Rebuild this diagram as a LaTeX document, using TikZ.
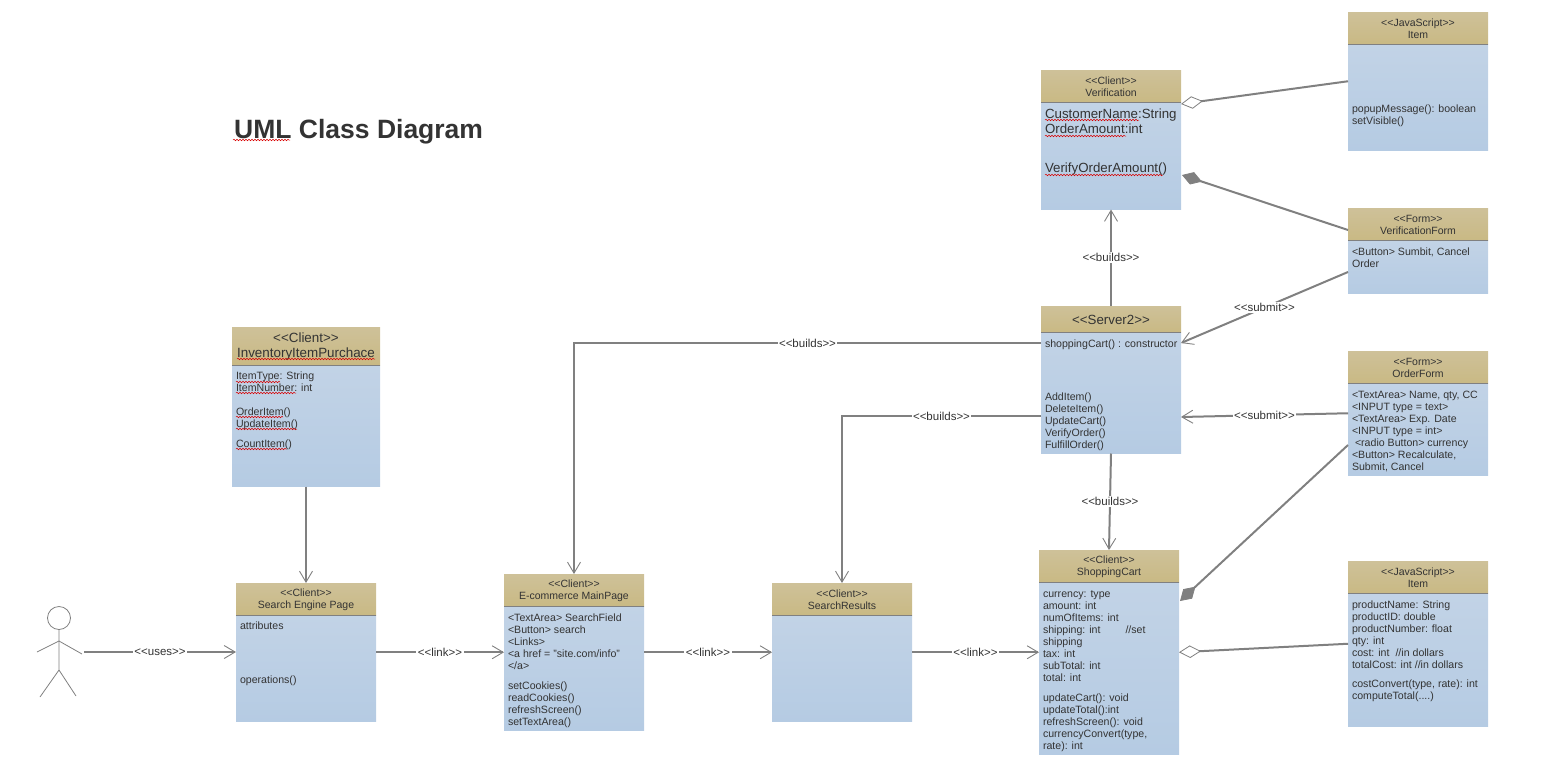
\documentclass[tikz,border=0pt]{standalone}
\usepackage{fontspec}
\setmainfont{Liberation Sans}
\usepackage{xcolor}
\usepackage{tikz}
\usetikzlibrary{arrows.meta, calc, decorations.pathmorphing}
\definecolor{umlInk}{HTML}{333333}
\definecolor{umlLine}{HTML}{808080}
\definecolor{umlHeadTop}{HTML}{CEC199}
\definecolor{umlHeadLow}{HTML}{C9B984}
\definecolor{umlBodyTop}{HTML}{C2D3E6}
\definecolor{umlBodyLow}{HTML}{B5CBE3}
\tikzset{
	classhead/.style={top color=umlHeadTop, bottom color=umlHeadLow, inner sep=0, outer sep=0},
	classtitle/.style={inner sep=0, outer sep=0, align=center, text=umlInk, font=\fontsize{10.5}{12}\selectfont},
	classbody/.style={top color=umlBodyTop, bottom color=umlBodyLow, inner sep=0, outer sep=0},
	classtext/.style={inner xsep=4pt, inner ysep=0, outer sep=0, align=left, text=umlInk, font=\fontsize{10.6}{12}\selectfont},
	flow/.style={draw=umlLine, line width=2pt, -{Straight Barb[length=11pt, width=13pt, line width=0.9pt]}},
	hollowlink/.style={draw=umlLine, line width=2pt, {Diamond[open, length=22pt, width=12.5pt, line width=0.8pt]}-},
	solidlink/.style={draw=umlLine, line width=2pt, {Diamond[length=21pt, width=13pt, line width=0.8pt]}-},
	flowlabel/.style={fill=white, inner sep=1.5pt, text=umlInk, font=\fontsize{11.5}{12}\selectfont},
	squiggle/.style={draw=red!85!black, line width=0.5pt, decorate, decoration={snake, amplitude=0.8pt, segment length=3pt}},
	figure/.style={draw=umlLine, line width=0.8pt}
}
\newcommand{\UMLClass}[8][]{
	\pgfmathsetmacro{\lbody}{#6-#5-0.5}
	\pgfmathsetmacro{\lwhole}{#6-0.5}
	\node[minimum width=#4pt, minimum height=\lwhole pt, anchor=north west, inner sep=0, outer sep=0] (#2) at (#3) {};
	\node[classhead, minimum width=#4pt, minimum height=#5pt, anchor=north west] (#2Head) at (#2.north west) {};
	\node[classbody, minimum width=#4pt, minimum height=\lbody pt, anchor=north west] (#2Body) at (#2Head.south west) {};
	\draw[umlLine, line width=0.8pt] (#2Head.south west) -- (#2Head.south east);
	\node[classtitle, yshift=-1pt] (#2Title) at (#2Head.center) {#7};
	\node[classtext, #1, anchor=north west] (#2Text) at (#2Body.north west) {\rule{0pt}{15pt}#8};
}
\begin{document}
\begin{tikzpicture}[x=1pt, y=-1pt]
	\useasboundingbox (0,0) rectangle (1560,774);

	\node[anchor=base west, inner sep=0, text=umlInk, font=\fontsize{26.5}{30}\selectfont\bfseries] (Title) at (234,138) {UML Class Diagram};

	\UMLClass[yshift=1pt]{Inventory}{232,327}{148}{38}{160}{\fontsize{13.4}{15}\selectfont <{}<Client>{}>\\[3pt]\fontsize{13.4}{15}\selectfont InventoryItemPurchace}{ItemType: String\\ItemNumber: int\\[12pt]OrderItem()\\UpdateItem()\\[8pt]CountItem()}
	\UMLClass[yshift=1pt]{SearchPage}{236,583}{140}{32}{139}{<{}<Client>{}>\\Search Engine Page}{attributes\\[42pt]operations()}
	\UMLClass{MainPage}{504,574}{140}{32}{157}{<{}<Client>{}>\\E-commerce MainPage}{<TextArea> SearchField\\<Button> search\\<Links>\\<a href = "site.com/info"\\</a>\\[8pt]setCookies()\\readCookies()\\refreshScreen()\\setTextArea()}
	\UMLClass{SearchResults}{772,583}{140}{32}{139}{<{}<Client>{}>\\SearchResults}{}
	\UMLClass{ShoppingCart}{1039,550}{140}{32}{205}{<{}<Client>{}>\\ShoppingCart}{currency: type\\amount: int\\numOfItems: int\\shipping: int\hspace*{25pt}//set\\shipping\\tax: int\\subTotal: int\\total: int\\[8pt]updateCart(): void\\updateTotal():int\\refreshScreen(): void\\currencyConvert(type,\\rate): int}
	\UMLClass{Server}{1041,306}{140}{26}{148}{\fontsize{13.3}{16}\selectfont <{}<Server2>{}>}{shoppingCart() : constructor\\[41pt]AddItem()\\DeleteItem()\\UpdateCart()\\VerifyOrder()\\FulfillOrder()}
	\UMLClass[font=\fontsize{13.3}{15}\selectfont, yshift=-1pt]{Verification}{1041,70}{140}{32}{140}{<{}<Client>{}>\\Verification}{CustomerName:String\\OrderAmount:int\\[24pt]VerifyOrderAmount()}
	\UMLClass{ItemTop}{1348,12}{140}{32}{139}{<{}<JavaScript>{}>\\Item}{\mbox{}\\[41pt]popupMessage(): boolean\\setVisible()}
	\UMLClass{VerificationForm}{1348,208}{140}{32}{86}{<{}<Form>{}>\\VerificationForm}{<Button> Sumbit, Cancel\\Order}
	\UMLClass{OrderForm}{1348,351}{140}{32}{125}{<{}<Form>{}>\\OrderForm}{<TextArea> Name, qty, CC\\<INPUT type = text>\\<TextArea> Exp. Date\\<INPUT type = int>\\\hspace*{3pt}<radio Button> currency\\<Button> Recalculate,\\Submit, Cancel}
	\UMLClass{ItemBottom}{1348,561}{140}{32}{166}{<{}<JavaScript>{}>\\Item}{productName: String\\productID: double\\productNumber: float\\qty: int\\cost: int\hspace*{6pt}//in dollars\\totalCost: int //in dollars\\[7pt]costConvert(type, rate): int\\computeTotal(....)}

	% spell check marks
	\foreach \xa/\xb/\ya in {233/290/140, 237/375/359, 236/280/382, 236/296/393, 236/283/417, 236/297/429, 236/287/449, 1045/1139/120, 1045/1126/136, 1045/1163/175}
		\draw[squiggle] (\xa,\ya) -- (\xb,\ya);

	\node[minimum width=50pt, minimum height=92pt, inner sep=0, outer sep=0] (Actor) at (59,652) {};
	\draw[figure] (59,618) circle (11.5);
	\draw[figure] (59,629.5) -- (59,670) -- (40,697);
	\draw[figure] (59,670) -- (76,696);
	\draw[figure] (37,652) -- (59,641) -- (82,654);

	\coordinate (ServerMain) at ($ (Server.north west)+(0,37) $);
	\coordinate (ServerResults) at ($ (Server.north west)+(0,110) $);
	\coordinate (ServerFormA) at ($ (Server.north east)+(0,37) $);
	\coordinate (ServerFormB) at ($ (Server.north east)+(0,111) $);
	\coordinate (VerifItem) at ($ (Verification.north east)+(0,34) $);
	\coordinate (VerifForm) at ($ (Verification.north east)+(1,105) $);
	\coordinate (FormVerif) at ($ (VerificationForm.north west)+(0,22) $);
	\coordinate (FormServer) at ($ (VerificationForm.north west)+(0,64) $);
	\coordinate (OrderCart) at ($ (OrderForm.north west)+(0,94) $);
	\coordinate (CartOrder) at ($ (ShoppingCart.north east)+(1,51) $);

	\draw[flow] (Actor.east) -- node[flowlabel] (LabelUses) {<{}<uses>{}>} (Actor.east -| SearchPage.west);
	\draw[flow] (SearchPage.east) -- node[flowlabel] (LabelLinkA) {<{}<link>{}>} (MainPage.west);
	\draw[flow] (MainPage.east) -- node[flowlabel] (LabelLinkB) {<{}<link>{}>} (SearchResults.west);
	\draw[flow] (SearchResults.east) -- node[flowlabel] (LabelLinkC) {<{}<link>{}>} (ShoppingCart.west);
	\draw[flow] (Inventory.south) -- (SearchPage.north);
	\draw[flow] (Server.north) -- node[flowlabel] (LabelBuildsA) {<{}<builds>{}>} (Verification.south);
	\draw[flow] (Server.south) -- node[flowlabel] (LabelBuildsB) {<{}<builds>{}>} (ShoppingCart.north);
	\draw[flow] (ServerMain) -| node[flowlabel, pos=0.25] (LabelBuildsC) {<{}<builds>{}>} (MainPage.north);
	\draw[flow] (ServerResults) -| node[flowlabel, pos=0.25] (LabelBuildsD) {<{}<builds>{}>} (SearchResults.north);
	\draw[flow] (FormServer) -- node[flowlabel] (LabelSubmitA) {<{}<submit>{}>} (ServerFormA);
	\draw[flow] (OrderForm.west) -- node[flowlabel] (LabelSubmitB) {<{}<submit>{}>} (ServerFormB);
	\draw[hollowlink] (VerifItem) -- (ItemTop.west);
	\draw[solidlink] (VerifForm) -- (FormVerif);
	\draw[solidlink] (CartOrder) -- (OrderCart);
	\draw[hollowlink] (ShoppingCart.east) -- (ItemBottom.west);
\end{tikzpicture}
\end{document}
